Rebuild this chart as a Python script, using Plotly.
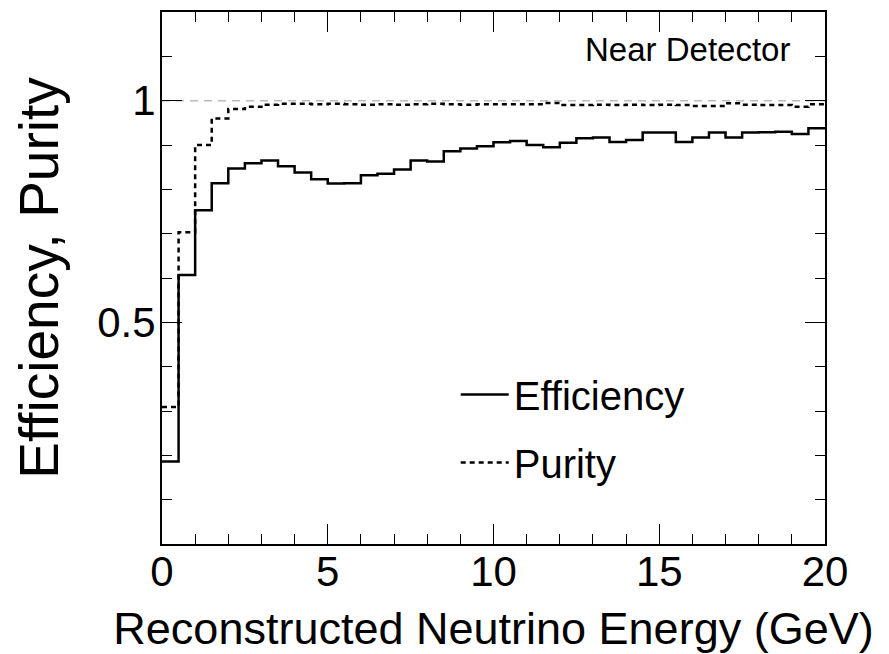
import plotly.graph_objects as go

# bin edges in reconstructed energy (GeV), 0.5 GeV bins
bin_edges = [0.0, 0.5, 1.0, 1.5, 2.0, 2.5, 3.0, 3.5, 4.0, 4.5,
             5.0, 5.5, 6.0, 6.5, 7.0, 7.5, 8.0, 8.5, 9.0, 9.5,
             10.0, 10.5, 11.0, 11.5, 12.0, 12.5, 13.0, 13.5, 14.0, 14.5,
             15.0, 15.5, 16.0, 16.5, 17.0, 17.5, 18.0, 18.5, 19.0, 19.5, 20.0]

efficiency = [0.186, 0.607, 0.753, 0.814, 0.847, 0.859, 0.865, 0.852, 0.838, 0.823,
              0.813, 0.814, 0.832, 0.835, 0.845, 0.865, 0.863, 0.886, 0.892, 0.897,
              0.906, 0.909, 0.900, 0.895, 0.905, 0.915, 0.917, 0.907, 0.911, 0.928,
              0.928, 0.907, 0.917, 0.928, 0.917, 0.928, 0.929, 0.930, 0.925, 0.938]

purity = [0.309, 0.703, 0.900, 0.960, 0.981, 0.986, 0.991, 0.993, 0.993, 0.992,
          0.993, 0.992, 0.991, 0.992, 0.991, 0.992, 0.993, 0.992, 0.991, 0.992,
          0.992, 0.992, 0.992, 0.995, 0.990, 0.990, 0.991, 0.990, 0.991, 0.990,
          0.991, 0.990, 0.988, 0.988, 0.994, 0.991, 0.990, 0.990, 0.986, 0.992]

x_ticks = [0, 5, 10, 15, 20]
y_ticks = [0.5, 1]
y_ticktext = ["0.5", "1"]

FONT = "Liberation Sans, Arial, sans-serif"

fig = go.Figure()

# reference line at 1
fig.add_trace(go.Scatter(x=[bin_edges[0], bin_edges[-1]], y=[1, 1], mode="lines",
                         line=dict(color="#bbbbbb", width=1.5, dash="8px,6px"),
                         showlegend=False, hoverinfo="skip"))

fig.add_trace(go.Scatter(x=bin_edges, y=efficiency + [efficiency[-1]],
                         mode="lines", line_shape="hv", name="Efficiency",
                         legendgroup="eff",
                         line=dict(color="black", width=2.5)))
fig.add_trace(go.Scatter(x=bin_edges, y=purity + [purity[-1]],
                         mode="lines", line_shape="hv", name="Purity",
                         legendgroup="pur",
                         line=dict(color="black", width=2.5, dash="5px,4px")))

fig.add_annotation(x=19.0, y=1.115, xref="x", yref="y", text="Near Detector",
                   showarrow=False, xanchor="right", yanchor="middle",
                   font=dict(family=FONT, size=33, color="black"))

# page has an 8px body margin, so the figure is a bit smaller than the window
fig.update_layout(
    width=881, height=646,
    margin=dict(l=154, r=64, t=4, b=110, autoexpand=False),
    paper_bgcolor="white", plot_bgcolor="white",
    font=dict(family=FONT, color="black"),
    legend=dict(x=0.443, y=0.342, xanchor="left", yanchor="top",
                bgcolor="rgba(0,0,0,0)", font=dict(size=40),
                traceorder="grouped", tracegroupgap=13, itemwidth=48),
)

fig.update_xaxes(
    range=[0, 20], showline=True, linewidth=2, linecolor="black", mirror="ticks",
    ticks="inside", tickvals=x_ticks, ticklen=20, tickwidth=1, tickcolor="black",
    minor=dict(ticks="inside", dtick=1, tick0=0, ticklen=10, tickwidth=1, tickcolor="black"),
    showgrid=False, zeroline=False, tickfont=dict(size=42), ticklabelstandoff=-10,
    title=dict(text="Reconstructed Neutrino Energy (GeV)", font=dict(size=45), standoff=19),
)
fig.update_yaxes(
    range=[0, 1.2], showline=True, linewidth=2, linecolor="black", mirror="ticks",
    ticks="inside", tickvals=y_ticks, ticktext=y_ticktext, ticklen=20, tickwidth=1,
    tickcolor="black", ticklabelstandoff=-4,
    minor=dict(ticks="inside", dtick=0.1, tick0=0, ticklen=10, tickwidth=1, tickcolor="black"),
    showgrid=False, zeroline=False, tickfont=dict(size=42),
    title=dict(text="Efficiency, Purity", font=dict(size=55), standoff=27),
)

fig.write_html("out.html")
